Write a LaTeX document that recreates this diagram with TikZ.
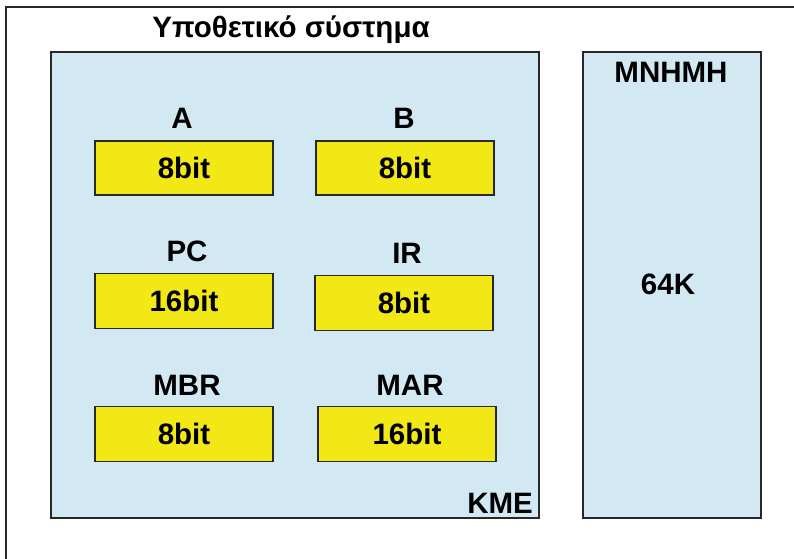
\documentclass[tikz,border=0pt]{standalone}
\usepackage{fontspec}
\setmainfont{Liberation Sans}
\definecolor{paleblue}{RGB}{210,233,243}
\definecolor{regyellow}{RGB}{242,232,22}
\definecolor{edge}{RGB}{40,40,40}
\begin{document}
\begin{tikzpicture}[x=1pt,y=-1pt,
  frame/.style={draw=edge,line width=1.8pt},
  unit/.style={draw=edge,line width=1.4pt,fill=paleblue},
  reg/.style={draw=edge,line width=1.4pt,fill=regyellow,minimum width=178pt,inner sep=0pt},
  lbl/.style={font=\fontsize{29.5}{34}\bfseries\selectfont,text=black,inner sep=0pt}]
\useasboundingbox (0,0) rectangle (794,558);
\fill[white] (0,0) rectangle (794,558);
\begin{scope}
\clip (0,0) rectangle (794,558);
\draw[frame] (6,7) rectangle (810,575);
\end{scope}
\node[lbl,anchor=base] (title) at (291,37) {Υποθετικό σύστημα};
% units
\draw[unit] (51,52) rectangle (539,518);
\draw[unit] (583,52) rectangle (761,518);
\node[lbl,anchor=base east] (kmelbl) at (533,513) {KME};
\node[lbl,anchor=base] (mem) at (671,82) {MNHMH};
\node[lbl,anchor=base] (k64) at (668,294) {64K};
% registers
\node[reg,minimum height=54pt] (ra) at (184,168) {};
\node[reg,minimum height=54pt] (rb) at (405,168) {};
\node[reg,minimum height=55pt] (rpc) at (184,301) {};
\node[reg,minimum height=55pt] (rir) at (404,303) {};
\node[reg,minimum height=55pt] (rmbr) at (184,434) {};
\node[reg,minimum height=55pt] (rmar) at (407,434) {};
\node[lbl] at (ra) {8bit};
\node[lbl] at (rb) {8bit};
\node[lbl] at (rpc) {16bit};
\node[lbl] at (rir) {8bit};
\node[lbl] at (rmbr) {8bit};
\node[lbl] at (rmar) {16bit};
\node[lbl,anchor=base] (la) at (182,128) {A};
\node[lbl,anchor=base] (lb) at (404,128) {B};
\node[lbl,anchor=base] (lpc) at (187,261) {PC};
\node[lbl,anchor=base] (lir) at (407,263) {IR};
\node[lbl,anchor=base] (lmbr) at (187,395) {MBR};
\node[lbl,anchor=base] (lmar) at (410,395) {MAR};
\end{tikzpicture}
\end{document}
